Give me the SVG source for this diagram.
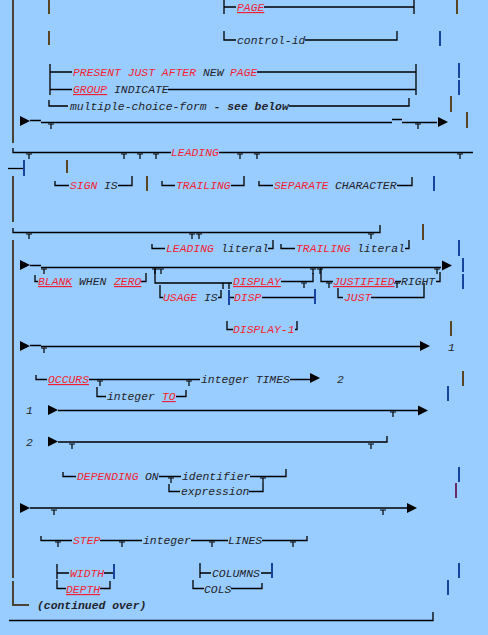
<svg xmlns="http://www.w3.org/2000/svg" width="488" height="635" viewBox="0 0 488 635">
<style>
text{font-family:"Liberation Mono","Courier New",monospace;font-style:italic;font-size:11.4px;fill:#23232b}
.k{fill:#f51e32}
.u{text-decoration:underline}
.b{font-weight:bold}
.ln{fill:none;stroke:#000;stroke-width:1.3}
.mg{fill:none;stroke:#4b4434;stroke-width:2}
.bb{fill:none;stroke:#5a4526;stroke-width:2}
.bu{fill:none;stroke:#1844a0;stroke-width:2}
.bp{fill:none;stroke:#6a2a6a;stroke-width:2}
.tee{fill:none;stroke:#000;stroke-width:1.2}
.arr{fill:#000}
</style>
<defs>
<path id="tee" class="tee" d="M-3,0H3M0,0V5"/>
<path id="arr" class="arr" d="M0,-5L10,0L0,5Z"/>
</defs>
<rect width="488" height="635" fill="#99ccff"/>
<g id="connectors">
<path class="mg" d="M13,0V143M13,176V222M13,240V578M13,581V605H29"/>
<path class="ln" d="M224,0V14M224,7H236M264,7H414M414,0V14"/>
<path class="ln" d="M224,31V40H236M305,40H397V31"/>
<path class="ln" d="M50,64V80M50,72H72M257,72H416M416,64V80"/>
<path class="ln" d="M50,80V95M50,89.5H72M168,89.5H416M416,80V95"/>
<path class="ln" d="M49,100V106H68M289,106H409V98"/>
<path class="ln" d="M30,120.5H41M41,122.5H392M392,119.5H402M402,122.5H437"/>
<path class="ln" d="M13,148V152.5H171M219,152.5H473"/>
<path class="ln" d="M8,168.5H24"/>
<path class="ln" d="M55,181V185.5H69M118,185.5H132V176M162,181V185.5H175M231,185.5H244V176M259,181V185.5H273M397,185.5H412V177"/>
<path class="ln" d="M13,228V232.5H380V225"/>
<path class="ln" d="M152,244V248.5H165M268,248.5H273V240M281,244V248.5H295M405,248.5H409V240"/>
<path class="ln" d="M30,265.5H41M41,267.5H441"/>
<path class="ln" d="M35,275V281.5H38M141,281.5H146V273M155,268V283H232M281,281.5H313V273M321,268V281.5H333M395,281.5H401M436,281.5H440V272"/>
<path class="ln" d="M160,285V297.5H163M218,297.5H221V290M229,297.5H234M262,297.5H315M338,288V297.5H343M371,297.5H424V283"/>
<path class="ln" d="M223,283V289M229,283V289"/>
<path class="ln" d="M227,321V329.5H233M295,329.5H297V321"/>
<path class="ln" d="M30,345.5H41M41,346.5H420"/>
<path class="ln" d="M36,375V379.5H47M89,379.5H200M290,379.5H310"/>
<path class="ln" d="M97,387V396.5H106M176,396.5H186V390"/>
<path class="ln" d="M58,410.5H418"/>
<path class="ln" d="M58,442H387V436"/>
<path class="ln" d="M63,472V476.5H76M159,476.5H181M250,476.5H286V469"/>
<path class="ln" d="M169,484V491.5H180M249,491.5H263V483"/>
<path class="ln" d="M30,508H408"/>
<path class="ln" d="M41,536V540.5H72M100,540.5H142M191,540.5H228M262,540.5H307V536"/>
<path class="ln" d="M57,564V579M57,573H69M104,573H114M200,563V578M200,573H211M261,573H272"/>
<path class="ln" d="M57,580V588.5H66M100,588.5H110V581M193,580V588.5H204M231,588.5H262V583"/>
<path class="ln" d="M9,620.5H433V612"/>
<path class="bu" d="M24,160V176M229,290V305M315,289V304M114,564V579M272,563V578"/>
<use href="#tee" x="51" y="124"/><use href="#tee" x="418" y="124"/>
<use href="#tee" x="29" y="154"/><use href="#tee" x="124" y="154"/><use href="#tee" x="140" y="154"/><use href="#tee" x="156" y="154"/><use href="#tee" x="240" y="154"/><use href="#tee" x="257" y="154"/><use href="#tee" x="460" y="154"/>
<use href="#tee" x="29" y="234"/><use href="#tee" x="192" y="234"/><use href="#tee" x="199" y="234"/><use href="#tee" x="371" y="234"/>
<use href="#tee" x="44" y="269"/><use href="#tee" x="155" y="269"/><use href="#tee" x="161" y="269"/><use href="#tee" x="313" y="269"/><use href="#tee" x="320" y="269"/><use href="#tee" x="437" y="269"/>
<use href="#tee" x="304" y="283"/><use href="#tee" x="329" y="283"/><use href="#tee" x="397" y="283"/>
<use href="#tee" x="44" y="348"/>
<use href="#tee" x="100" y="381"/><use href="#tee" x="189" y="381"/>
<use href="#tee" x="393" y="412"/>
<use href="#tee" x="72" y="444"/><use href="#tee" x="371" y="444"/>
<use href="#tee" x="171" y="478"/><use href="#tee" x="263" y="478"/>
<use href="#tee" x="54" y="510"/><use href="#tee" x="383" y="510"/>
<use href="#tee" x="58" y="542"/><use href="#tee" x="122" y="542"/><use href="#tee" x="212" y="542"/><use href="#tee" x="293" y="542"/>
<use href="#arr" x="20" y="121"/><use href="#arr" x="438" y="122"/>
<use href="#arr" x="20" y="265"/><use href="#arr" x="442" y="265.5"/>
<use href="#arr" x="20" y="346"/><use href="#arr" x="420" y="346"/>
<use href="#arr" x="310" y="378"/>
<use href="#arr" x="48" y="410"/><use href="#arr" x="418" y="410.5"/>
<use href="#arr" x="48" y="441.5"/>
<use href="#arr" x="20" y="508"/><use href="#arr" x="407" y="508"/>
<path class="bb" d="M49,0V14M457,0V14M49,31V45M451,96V112M467,112V128M67,160V173M147,176V191M423,224V240M451,321V336M463,371V386"/>
<path class="bu" d="M440,31V46M459,63V78M459,80V95M434,176V191M459,240V256M463,258V272M463,274V289M448,386V401M459,467V482M459,563V578M448,580V595"/>
<path class="bp" d="M456,483V498"/>
</g>
<g id="n-page"><text class="k u" x="237" y="11">PAGE</text></g>
<g id="n-control-id"><text x="237" y="44">control-id</text></g>
<g id="n-present"><text class="k" x="73" y="76">PRESENT JUST AFTER</text><text x="203" y="76">NEW</text><text class="k" x="230" y="76">PAGE</text></g>
<g id="n-group"><text class="k u" x="73" y="93">GROUP</text><text x="114" y="93">INDICATE</text></g>
<g id="n-mcf"><text x="70" y="110">multiple-choice-form</text><text class="b" x="213.6" y="110">- see below</text></g>
<g id="n-leading1"><text class="k" x="171" y="156">LEADING</text></g>
<g id="n-sign"><text class="k" x="70" y="189">SIGN</text><text x="104" y="189">IS</text></g>
<g id="n-trailing1"><text class="k" x="176" y="189">TRAILING</text></g>
<g id="n-separate"><text class="k" x="274" y="189">SEPARATE</text><text x="335" y="189">CHARACTER</text></g>
<g id="n-leading2"><text class="k" x="166" y="252">LEADING</text><text x="221" y="252">literal</text></g>
<g id="n-trailing2"><text class="k" x="296" y="252">TRAILING</text><text x="357" y="252">literal</text></g>
<g id="n-blank"><text class="k u" x="38" y="285">BLANK</text><text x="79" y="285">WHEN</text><text class="k u" x="114" y="285">ZERO</text></g>
<g id="n-display"><text class="k u" x="233" y="285">DISPLAY</text></g>
<g id="n-justified"><text class="k u" x="333" y="285">JUSTIFIED</text><text x="401" y="285">RIGHT</text></g>
<g id="n-usage"><text class="k" x="163" y="301">USAGE</text><text x="204" y="301">IS</text></g>
<g id="n-disp"><text class="k" x="234" y="301">DISP</text></g>
<g id="n-just"><text class="k" x="344" y="301">JUST</text></g>
<g id="n-display1"><text class="k" x="233" y="333">DISPLAY-1</text></g>
<g id="n-ref1a"><text x="448" y="351">1</text></g>
<g id="n-occurs"><text class="k u" x="48" y="383">OCCURS</text><text x="201" y="383">integer TIMES</text></g>
<g id="n-ref2a"><text x="337" y="383">2</text></g>
<g id="n-integer-to"><text x="107" y="400">integer</text><text class="k u" x="162" y="400">TO</text></g>
<g id="n-ref1b"><text x="26" y="414">1</text></g>
<g id="n-ref2b"><text x="26" y="446">2</text></g>
<g id="n-depending"><text class="k" x="77" y="480">DEPENDING</text><text x="145" y="480">ON</text><text x="182" y="480">identifier</text></g>
<g id="n-expression"><text x="181" y="495">expression</text></g>
<g id="n-step"><text class="k" x="73" y="544">STEP</text><text x="143" y="544">integer</text><text x="228" y="544">LINES</text></g>
<g id="n-width"><text class="k" x="70" y="577">WIDTH</text></g>
<g id="n-columns"><text x="212" y="577">COLUMNS</text></g>
<g id="n-depth"><text class="k u" x="66" y="593">DEPTH</text></g>
<g id="n-cols"><text x="204" y="593">COLS</text></g>
<g id="n-continued"><text class="b" x="37" y="609">(continued over)</text></g>
</svg>
